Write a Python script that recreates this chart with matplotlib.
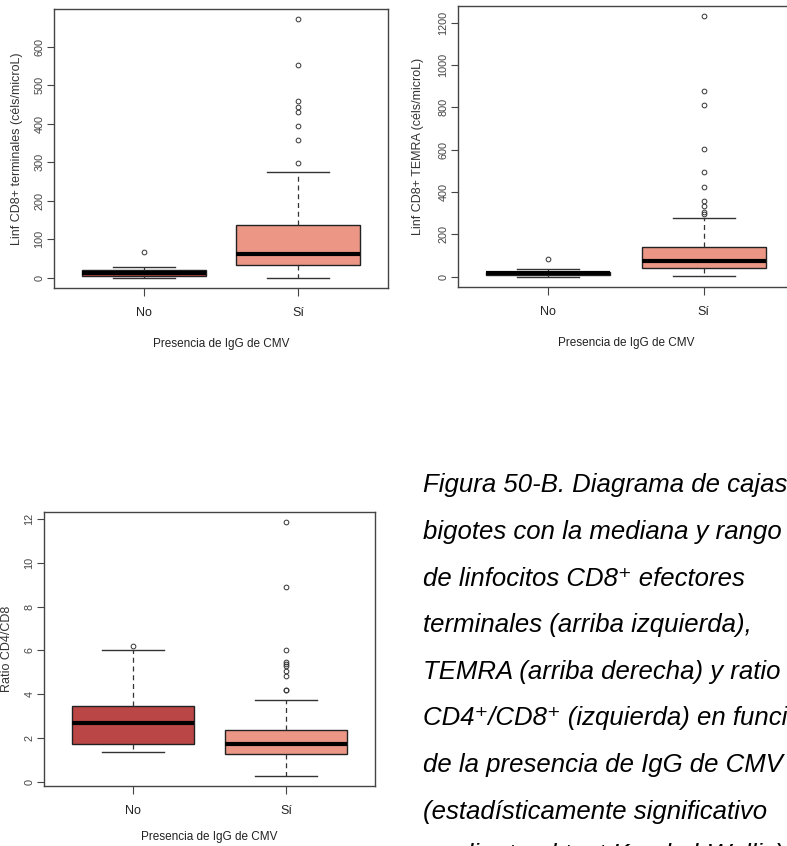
"""
Box plots of CD8+ subsets and CD4/CD8 ratio by presence of CMV IgG (Figura 50-B)
"""

import numpy as np
from matplotlib import pyplot as plt

FIG_W, FIG_H = 787, 846  # pixels
DPI = 100

# -- Categories --
groups = ['No', 'Sí']
xlabelText = 'Presencia de IgG de CMV'

# -- Linf CD8+ terminales (céls/microL) --
termQ1 = [5, 32]
termMed = [12, 62]
termQ3 = [19, 138]
termLo = [0, 0]
termHi = [27, 275]
termOut = [[66], [671, 552, 459, 443, 430, 394, 358, 297]]

# -- Linf CD8+ TEMRA (céls/microL) --
temraQ1 = [6, 42]
temraMed = [15, 74]
temraQ3 = [22, 139]
temraLo = [0, 5]
temraHi = [38, 279]
temraOut = [[82], [1229, 878, 809, 602, 495, 423, 356, 334, 306, 296]]

# -- Ratio CD4/CD8 --
ratioQ1 = [1.73, 1.26]
ratioMed = [2.66, 1.73]
ratioQ3 = [3.44, 2.34]
ratioLo = [1.33, 0.26]
ratioHi = [6.03, 3.75]
ratioOut = [[6.18], [11.87, 8.91, 6.0, 5.46, 5.37, 5.28, 5.08, 4.82, 4.21, 4.18]]

yticksTerm = [0, 100, 200, 300, 400, 500, 600]
yticksTemra = [0, 200, 400, 600, 800, 1000, 1200]
yticksRatio = [0, 2, 4, 6, 8, 10, 12]

captionLines = ['Figura 50-B. Diagrama de cajas y',
                'bigotes con la mediana y rango',
                'de linfocitos CD8\u207a efectores',
                'terminales (arriba izquierda),',
                'TEMRA (arriba derecha) y ratio',
                'CD4\u207a/CD8\u207a (izquierda) en función',
                'de la presencia de IgG de CMV',
                '(estadísticamente significativo',
                'mediante el test Kruskal-Wallis)']

boxColors = ['#bb4646', '#ec9786']
axisColor = '#444444'
narrowFont = ['Liberation Sans Narrow', 'DejaVu Sans Condensed', 'Liberation Sans', 'DejaVu Sans']
plainFont = ['Liberation Sans', 'DejaVu Sans']


def px_axes(fig, left, top, right, bottom):
    return fig.add_axes([left/FIG_W, 1-bottom/FIG_H, (right-left)/FIG_W, (bottom-top)/FIG_H])


def px_text(fig, x, y, s, **kw):
    return fig.text(x/FIG_W, 1-y/FIG_H, s, **kw)


def draw_panel(ax, q1, med, q3, lo, hi, out, yticks, ylabel, ylabelX, xlabelY=56):
    stats = []
    for ind in range(len(groups)):
        stats.append(dict(q1=q1[ind], med=med[ind], q3=q3[ind],
                          whislo=lo[ind], whishi=hi[ind], fliers=out[ind]))
    bp = ax.bxp(stats, positions=[1, 2], widths=0.8, patch_artist=True,
                showfliers=True,
                boxprops=dict(edgecolor='#222222', linewidth=1.0),
                medianprops=dict(color='black', linewidth=3, solid_capstyle='butt'),
                whiskerprops=dict(color='#333333', linewidth=0.9, linestyle=(0, (4, 3))),
                capprops=dict(color='#333333', linewidth=1.0),
                capwidths=0.4,
                flierprops=dict(marker='o', markersize=3.4, markerfacecolor='none',
                                markeredgecolor='#333333', markeredgewidth=0.7))
    for patch, col in zip(bp['boxes'], boxColors):
        patch.set_facecolor(col)
    allVals = np.concatenate([lo, hi] + [np.array(o, dtype=float) for o in out])
    vmin, vmax = allVals.min(), allVals.max()
    pad = 0.04*(vmax-vmin)
    ax.set_ylim(vmin-pad, vmax+pad)
    ax.set_xlim(0.42, 2.58)
    ax.set_yticks(yticks)
    ax.set_yticklabels([str(t) for t in yticks], rotation=90, va='center',
                       fontsize=7.8, color='#444444', family=plainFont)
    ax.set_xticks([1, 2])
    ax.set_xticklabels(groups, fontsize=9, color='#222222', family=narrowFont)
    ax.tick_params(axis='y', length=5, width=0.8, color=axisColor, pad=2)
    ax.tick_params(axis='x', length=6, width=0.8, color=axisColor, pad=8)
    for spine in ax.spines.values():
        spine.set_color(axisColor)
        spine.set_linewidth(1.0)
    ax.set_ylabel(ylabel, fontsize=9, color='#333333', family=plainFont)
    ax.set_xlabel(xlabelText, fontsize=8.5, color='#222222', family=narrowFont)
    # label centres placed in pixels below / left of the axes box
    bbox = ax.get_position()
    hPx = bbox.height*FIG_H
    wPx = bbox.width*FIG_W
    ax.xaxis.set_label_coords(0.5, -xlabelY/hPx)
    ax.xaxis.label.set_va('center')
    ax.yaxis.set_label_coords(-ylabelX/wPx, 0.5)
    ax.yaxis.label.set_va('center')


fig = plt.figure(figsize=(FIG_W/DPI, FIG_H/DPI), dpi=DPI, facecolor='white')

ax1 = px_axes(fig, 54, 9, 388, 288)
draw_panel(ax1, termQ1, termMed, termQ3, termLo, termHi, termOut, yticksTerm,
           'Linf CD8+ terminales (céls/microL)', 37)

ax2 = px_axes(fig, 458, 6, 794, 287)
draw_panel(ax2, temraQ1, temraMed, temraQ3, temraLo, temraHi, temraOut, yticksTemra,
           'Linf CD8+ TEMRA (céls/microL)', 40)

ax3 = px_axes(fig, 44, 512, 375, 786)
draw_panel(ax3, ratioQ1, ratioMed, ratioQ3, ratioLo, ratioHi, ratioOut, yticksRatio,
           'Ratio CD4/CD8', 37, xlabelY=51)

# -- Caption (runs off the right/bottom edge as in the source page) --
baselines = [492.3, 538.9, 585.5, 632.1, 678.7, 725.3, 771.9, 818.5, 862.0]
for oneLine, yBase in zip(captionLines, baselines):
    px_text(fig, 423, yBase, oneLine, fontsize=18.5, style='italic',
            family=plainFont, va='baseline', ha='left', color='black')

fig.savefig('out.png', dpi=DPI)
